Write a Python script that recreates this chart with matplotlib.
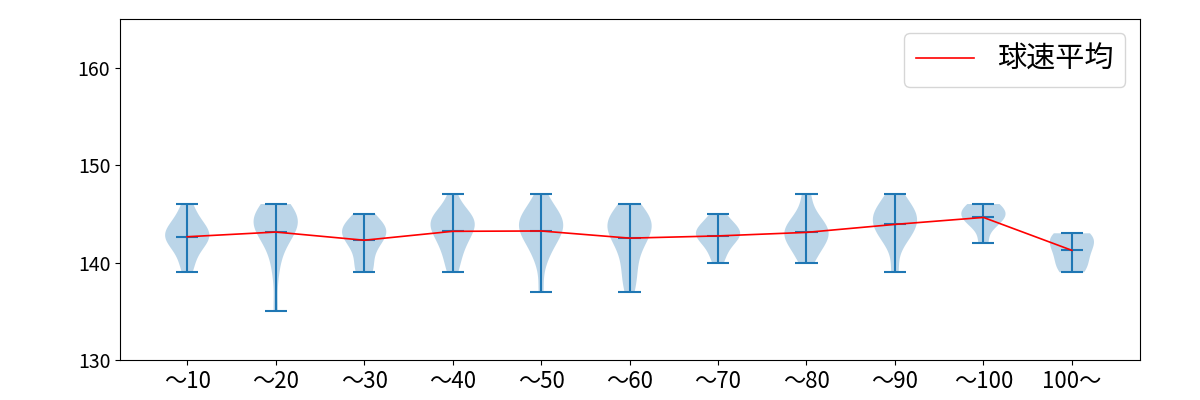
"""Violin plot of pitch speed by pitch-count bucket, with mean line."""

import matplotlib

matplotlib.use("Agg")
import matplotlib.pyplot as plt
import numpy as np

plt.rcParams["font.family"] = ["Noto Sans CJK JP", "DejaVu Sans"]

CATEGORIES = ["～10", "～20", "～30", "～40", "～50", "～60", "～70", "～80", "～90", "～100", "100～"]

# pitch speeds (km/h) per bucket
SPEEDS = [
    [139, 140, 141, 142, 142, 142, 143, 143, 143, 143, 144, 144, 145, 146],
    [135, 139, 141, 142, 143, 143, 144, 144, 144, 144, 144, 145, 145, 145, 146, 146],
    [139, 139, 140, 141, 142, 142, 143, 143, 143, 144, 144, 144, 145, 143],
    [139, 140, 141, 142, 142, 143, 143, 144, 144, 144, 144, 145, 145, 145, 147],
    [137, 140, 141, 142, 142, 143, 143, 143, 144, 144, 144, 145, 145, 145, 146, 144, 147],
    [137, 138, 139, 140, 141, 142, 142, 143, 143, 143, 144, 144, 144, 144, 145, 145, 145, 146],
    [140, 141, 142, 142, 143, 143, 143, 143, 144, 144, 145],
    [140, 141, 142, 142, 143, 143, 143, 144, 144, 145, 147],
    [139, 142, 143, 143, 144, 144, 145, 145, 145, 146, 147],
    [142, 144, 144, 145, 145, 145, 146, 146],
    [139, 139, 140, 140, 141, 141, 142, 142, 142, 143, 143, 143],
]

MEAN_LABEL = "球速平均"


def main() -> None:
    positions = np.arange(1, len(CATEGORIES) + 1)
    means = [np.mean(s) for s in SPEEDS]

    fig, ax = plt.subplots(figsize=(12, 4), dpi=100)
    ax.violinplot(SPEEDS, positions=positions, showmeans=True)
    ax.plot(positions, means, color="red", linewidth=1.2, label=MEAN_LABEL)

    ax.set_xticks(positions)
    ax.set_xticklabels(CATEGORIES, fontsize=16)
    ax.tick_params(axis="y", labelsize=14)
    ax.set_ylim(130, 165)
    ax.set_xlim(0.24, 11.77)
    ax.set_yticks([130, 140, 150, 160])
    ax.legend(loc="upper right", fontsize=21)

    fig.subplots_adjust(left=0.1, right=0.95, top=0.953, bottom=0.1)
    fig.savefig("out.png", dpi=100)


if __name__ == "__main__":
    main()
